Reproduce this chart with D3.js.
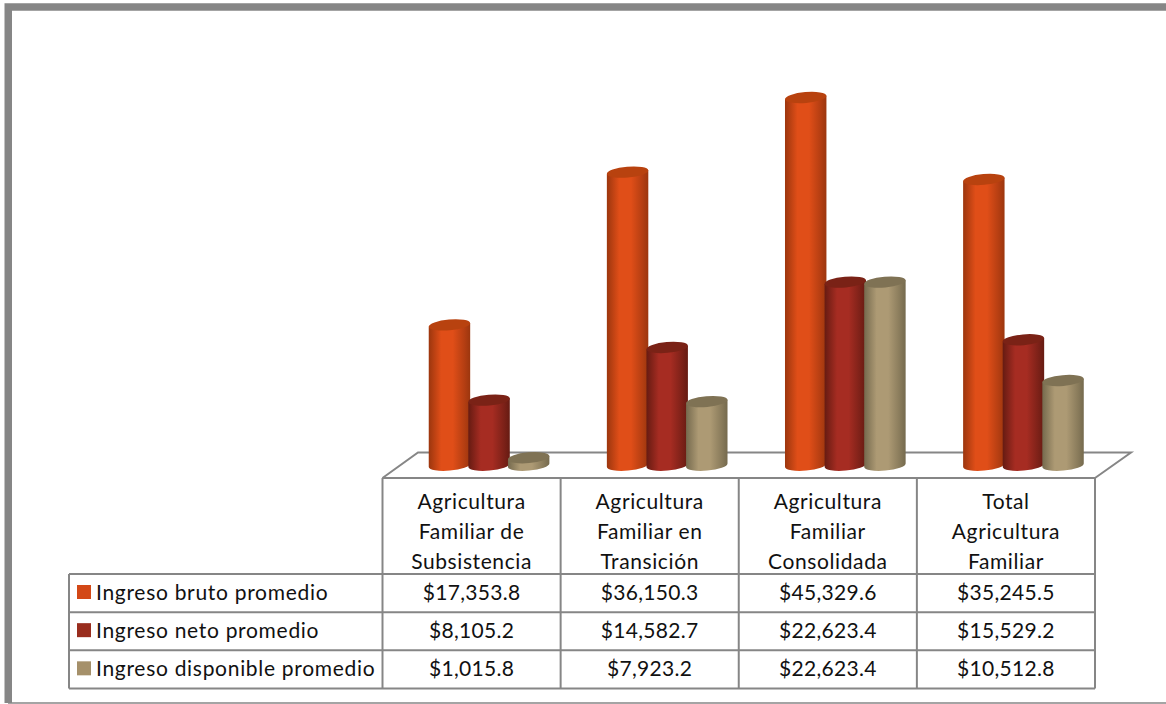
<!DOCTYPE html>
<html><head><meta charset="utf-8">
<script src="https://cdn.jsdelivr.net/npm/d3@7/dist/d3.min.js"></script>
<style>html,body{margin:0;padding:0;background:#fff}svg{display:block}text{font-family:Lato,"Open Sans",sans-serif;fill:#111}</style>
</head><body><svg id="c" width="1166" height="704"></svg>
<script>
const categories=[["Agricultura","Familiar de","Subsistencia"],["Agricultura","Familiar en","Transición"],["Agricultura","Familiar","Consolidada"],["Total","Agricultura","Familiar"]];
const seriesNames=["Ingreso bruto promedio","Ingreso neto promedio","Ingreso disponible promedio"];
const bruto=[17353.8,36150.3,45329.6,35245.5];
const neto=[8105.2,14582.7,22623.4,15529.2];
const disponible=[1015.8,7923.2,22623.4,10512.8];
const series=[bruto,neto,disponible];
const palette=[{mid:"#E04E18",edge:"#9C360E",top:"#B8420F",sw:"#D34816"},{mid:"#A62C22",edge:"#661B12",top:"#7A2216",sw:"#992D1E"},{mid:"#AD9A74",edge:"#756A4E",top:"#7F7254",sw:"#A5906A"}];
const fmt=v=>"$"+d3.format(",.1f")(v);

const svg=d3.select("#c"), GRAY="#868686";
const defs=svg.append("defs");
palette.forEach((p,i)=>{
  const g=defs.append("linearGradient").attr("id","g"+i);
  [[0,p.edge],[.3,p.mid],[.58,p.mid],[.86,d3.interpolateRgb(p.mid,p.edge)(.65)],[1,p.edge]].forEach(s=>g.append("stop").attr("offset",s[0]).attr("stop-color",s[1]));
});
// frame
svg.append("path").attr("d","M1166,7H8.25V703").attr("fill","none").attr("stroke",GRAY).attr("stroke-width",7.5);
svg.append("line").attr("x1",8).attr("x2",1166).attr("y1",703).attr("y2",703).attr("stroke",GRAY).attr("stroke-width",1.5);

const tableL=69,left=382.5,right=1095;
const x=d3.scaleBand().domain(d3.range(categories.length)).range([left,right]);
const depth=17.5;
const y=d3.scaleLinear().domain([0,45329.6]).range([466,97.5]);
// floor
svg.append("path").attr("d",`M${left},478L${left+35.5},452.5H${right+36}L${right},478`).attr("fill","none").attr("stroke",GRAY).attr("stroke-width",2);
// table
const rowY=d3.scaleLinear().domain([0,3]).range([574,688.5]);
const tl=svg.append("g").attr("stroke",GRAY).attr("stroke-width",2);
tl.append("line").attr("x1",left).attr("x2",right).attr("y1",478).attr("y2",478);
d3.range(0,4).forEach(r=>tl.append("line").attr("x1",tableL).attr("x2",right).attr("y1",rowY(r)).attr("y2",rowY(r)));
tl.append("line").attr("x1",tableL).attr("x2",tableL).attr("y1",574).attr("y2",688.5);
d3.range(0,5).forEach(c=>tl.append("line").attr("x1",left+c*x.bandwidth()).attr("x2",left+c*x.bandwidth()).attr("y1",478).attr("y2",688.5));
// cylinders
const rx=20.8,ry=5.4,rot=-5,th=rot*Math.PI/180,dx=rx*Math.cos(th),dy=-rx*Math.sin(th);
const step=39.6;
categories.forEach((c,ci)=>{
  const center=x(ci)+x.bandwidth()/2+depth;
  series.forEach((s,si)=>{
    const cx=center+(si-1)*step, top=y(s[ci]), base=y(0)-.8;
    const g=svg.append("g");
    g.append("path").attr("fill",`url(#g${si})`)
     .attr("d",`M${cx-dx},${top+dy}L${cx-dx},${base+dy}A${rx},${ry} ${rot} 0 0 ${cx+dx},${base-dy}L${cx+dx},${top-dy}Z`);
    g.append("ellipse").attr("cx",cx).attr("cy",top).attr("rx",rx).attr("ry",ry)
     .attr("transform",`rotate(${rot} ${cx} ${top})`).attr("fill",palette[si].top);
  });
  c.forEach((t,i)=>svg.append("text").attr("x",x(ci)+x.bandwidth()/2).attr("y",509+i*30).attr("text-anchor","middle").attr("font-size",21).attr("letter-spacing",.6).text(t));
  series.forEach((s,si)=>svg.append("text").attr("x",x(ci)+x.bandwidth()/2).attr("y",rowY(si)+26).attr("text-anchor","middle").attr("font-size",21).attr("letter-spacing",.3).text(fmt(s[ci])));
});
seriesNames.forEach((n,i)=>{
  svg.append("rect").attr("x",77).attr("y",rowY(i)+11).attr("width",14).attr("height",14).attr("fill",palette[i].sw);
  svg.append("text").attr("x",96).attr("y",rowY(i)+26).attr("font-size",21).attr("letter-spacing",.7).text(n);
});
</script></body></html>
